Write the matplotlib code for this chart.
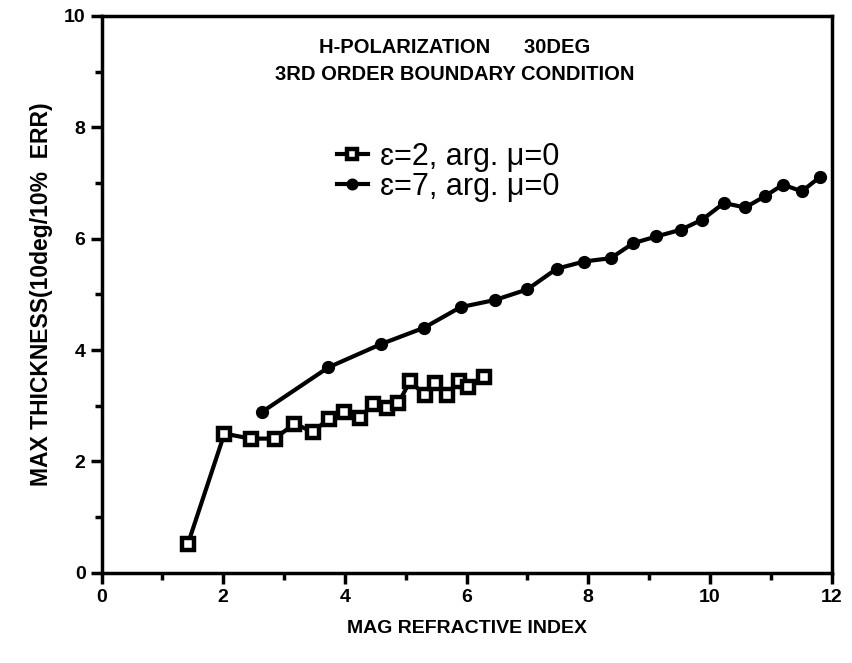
import matplotlib.pyplot as plt
from matplotlib.ticker import MultipleLocator

# data
sq_x = [1.42, 2.02, 2.45, 2.85, 3.17, 3.47, 3.74, 3.98, 4.25, 4.46, 4.69, 4.88,
        5.07, 5.32, 5.48, 5.67, 5.87, 6.03, 6.28]
sq_y = [0.52, 2.50, 2.41, 2.41, 2.68, 2.53, 2.77, 2.88, 2.78, 3.03, 2.96, 3.05,
        3.44, 3.19, 3.40, 3.19, 3.45, 3.33, 3.51]

ci_x = [2.64, 3.73, 4.60, 5.30, 5.90, 6.47, 7.00, 7.48, 7.93, 8.37, 8.74, 9.12,
        9.52, 9.87, 10.23, 10.58, 10.90, 11.20, 11.51, 11.81]
ci_y = [2.89, 3.69, 4.11, 4.40, 4.77, 4.90, 5.09, 5.46, 5.59, 5.65, 5.92, 6.04,
        6.16, 6.34, 6.64, 6.56, 6.76, 6.97, 6.85, 7.11]

labels = ["\u025b=2, arg. \u03bc=0", "\u025b=7, arg. \u03bc=0"]
title_1 = "H-POLARIZATION      30DEG"
title_2 = "3RD ORDER BOUNDARY CONDITION"

plt.rcParams['font.family'] = ['Liberation Sans', 'DejaVu Sans']

fig = plt.figure(figsize=(8.53, 6.63), dpi=100)
ax = fig.add_axes([0.119, 0.136, 0.856, 0.840])

ax.plot(sq_x, sq_y, color='black', lw=3, marker='s', markersize=8,
        markerfacecolor='white', markeredgecolor='black', markeredgewidth=3.2,
        label=labels[0])
ax.plot(ci_x, ci_y, color='black', lw=3, marker='o', markersize=8.5,
        markerfacecolor='black', markeredgecolor='black', label=labels[1])

ax.set_xlim(0, 12)
ax.set_ylim(0, 10)
ax.xaxis.set_major_locator(MultipleLocator(2))
ax.xaxis.set_minor_locator(MultipleLocator(1))
ax.yaxis.set_major_locator(MultipleLocator(2))
ax.yaxis.set_minor_locator(MultipleLocator(1))
ax.tick_params(which='major', direction='out', length=8, width=2.5, labelsize=14)
ax.tick_params(which='minor', direction='out', length=5, width=2.5)
for lab in ax.get_xticklabels() + ax.get_yticklabels():
    lab.set_fontweight('bold')
for sp in ax.spines.values():
    sp.set_linewidth(2.5)

ax.set_xlabel('MAG REFRACTIVE INDEX', fontsize=14, fontweight='bold', labelpad=10)
ax.set_ylabel('MAX THICKNESS(10deg/10%  ERR)', fontsize=16.5, fontweight='bold', labelpad=8)

ax.text(0.484, 0.943, title_1, transform=ax.transAxes, ha='center', va='center',
        fontsize=14.5, fontweight='bold')
ax.text(0.484, 0.894, title_2, transform=ax.transAxes, ha='center', va='center',
        fontsize=14.5, fontweight='bold')

leg = ax.legend(loc='center', bbox_to_anchor=(0.475, 0.72), frameon=False,
                fontsize=22, handlelength=1.0, handletextpad=0.4, labelspacing=0.0,
                markerscale=0.9)

fig.savefig('out.png', dpi=100)
plt.close(fig)
